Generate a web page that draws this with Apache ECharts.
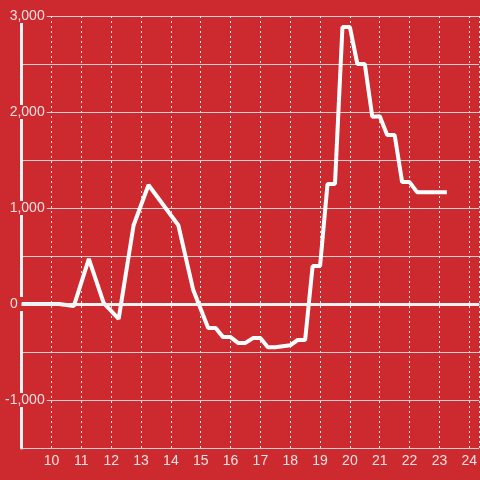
<!DOCTYPE html>
<html>
<head>
<meta charset="utf-8">
<script src="https://cdn.jsdelivr.net/npm/echarts@6/dist/echarts.min.js"></script>
<style>
  html, body { margin: 0; padding: 0; background: #cc2a2f; }
  #chart { width: 480px; height: 480px; }
</style>
</head>
<body>
<div id="chart"></div>
<script>
// hours of the day (x) and values (y)
const hours = [9, 10.25, 10.75, 11.25, 11.75, 12.25, 12.75, 13.25, 14.25, 14.75,
  15.25, 15.5, 15.75, 16, 16.25, 16.5, 16.75, 17, 17.25, 17.5,
  17.75, 18, 18.25, 18.5, 18.75, 19, 19.25, 19.5, 19.75, 20,
  20.25, 20.5, 20.75, 21, 21.25, 21.5, 21.75, 22, 22.25, 23.25];
const values = [0, 0, -20, 470, 10, -155, 820, 1240, 820, 145,
  -250, -250, -345, -345, -405, -405, -355, -355, -450, -450,
  -440, -430, -375, -375, 395, 395, 1250, 1250, 2885, 2885,
  2500, 2500, 1950, 1955, 1760, 1760, 1270, 1270, 1165, 1165];
const yLabelValues = [-1000, 0, 1000, 2000, 3000];

const bg = '#cc2a2f';
const textColor = '#f6e2e2';
const font = 'Liberation Sans, Arial, sans-serif';

const chart = echarts.init(document.getElementById('chart'));

let option = {
  backgroundColor: bg,
  animation: false,
  grid: { left: 20, right: 0, top: 16, bottom: 32, containLabel: false },
  xAxis: {
    type: 'value',
    min: 9,
    max: 24 + 1 / 3,
    interval: 1,
    axisLine: { show: true, lineStyle: { color: '#d9d9d9', width: 1 } },
    axisTick: { show: false },
    axisLabel: {
      color: textColor,
      fontSize: 14,
      fontFamily: font,
      margin: 6,
      showMinLabel: false,
      showMaxLabel: false
    },
    splitLine: { show: true, lineStyle: { color: '#e8e8e8', width: 1, type: [2, 3] } }
  },
  yAxis: {
    type: 'value',
    min: -1500,
    max: 3000,
    interval: 500,
    axisLine: { show: true, lineStyle: { color: '#f2f2f2', width: 3 } },
    axisTick: { show: false },
    axisLabel: {
      customValues: yLabelValues,
      color: textColor,
      fontSize: 14,
      fontFamily: font,
      margin: -25,
      backgroundColor: bg,
      padding: [0, 2, 0, 2],
      // the zero label sits left of the axis, the others overlap it
      formatter: v => v === 0 ? '{z|0}' : v.toLocaleString('en-US'),
      rich: {
        z: { color: textColor, fontSize: 14, fontFamily: font, padding: [0, 27, 0, 0] }
      }
    },
    splitLine: { show: true, lineStyle: { color: '#cfcfcf', width: 1 } }
  },
  series: [{
    type: 'line',
    data: hours.map((h, i) => [h, values[i]]),
    showSymbol: false,
    symbol: 'none',
    lineStyle: { color: '#ffffff', width: 4 },
    markLine: {
      silent: true,
      symbol: 'none',
      label: { show: false },
      lineStyle: { color: '#f2f2f2', width: 3, type: 'solid' },
      data: [{ yAxis: 0 }]
    }
  }]
};

chart.setOption(option);
</script>
</body>
</html>
